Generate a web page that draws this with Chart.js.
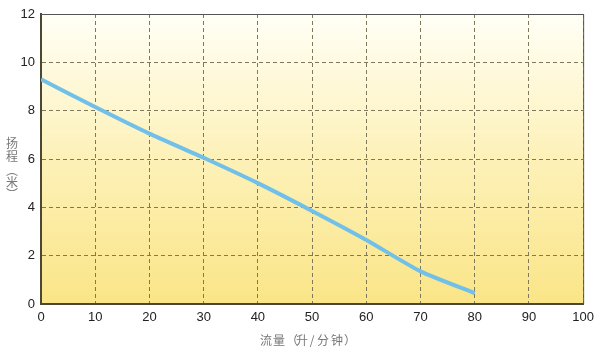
<!DOCTYPE html>
<html><head><meta charset="utf-8">
<script src="https://cdn.jsdelivr.net/npm/chart.js@4/dist/chart.umd.min.js"></script>
<style>html,body{margin:0;padding:0;background:#fff}#wrap{width:600px;height:353px;position:relative}</style>
</head><body><div id="wrap"><canvas id="c"></canvas></div>
<script>
const flow = [0, 10, 20, 30, 40, 50, 60, 70, 80];
const head = [9.3, 8.15, 7.05, 6.05, 5.0, 3.85, 2.65, 1.35, 0.45];
const xTitleChars = ['流', '量', '（', '升', '/', '分', '钟', '）'];
const yTitleChars = ['扬', '程', '︵', '米', '︶'];

const bgPlugin = {
  id: 'bg',
  beforeDraw(chart) {
    const {ctx, chartArea: a} = chart;
    const g = ctx.createLinearGradient(0, a.top, 0, a.bottom);
    g.addColorStop(0, '#fffff6');
    g.addColorStop(0.5, '#fdf1b8');
    g.addColorStop(1, '#fae587');
    ctx.save();
    ctx.fillStyle = g;
    ctx.fillRect(a.left, a.top, a.right - a.left, a.bottom - a.top);
    ctx.restore();
  },
  afterDraw(chart) {
    const {ctx, chartArea: a} = chart;
    ctx.save();
    ctx.strokeStyle = '#555';
    ctx.lineWidth = 1;
    ctx.beginPath();
    ctx.moveTo(a.left, a.top + 0.5);
    ctx.lineTo(a.right + 0.5, a.top + 0.5);
    ctx.lineTo(a.right + 0.5, a.bottom);
    ctx.stroke();
    ctx.fillStyle = '#777';
    ctx.font = '12px "Noto Sans CJK SC"';
    ctx.textAlign = 'center';
    ctx.textBaseline = 'middle';
    const yPos = [143, 156, 170, 182, 194];
    yTitleChars.forEach((ch, i) => ctx.fillText(ch, 12, yPos[i]));
    const cx = [266, 279, 292, 302, 312, 323, 337, 350];
    xTitleChars.forEach((ch, i) => ctx.fillText(ch, cx[i], 340));
    ctx.restore();
  }
};

new Chart(document.getElementById('c'), {
  type: 'line',
  data: {
    datasets: [{
      data: flow.map((x, i) => ({x, y: head[i]})),
      borderColor: '#70c0ea',
      borderWidth: 4,
      pointRadius: 0,
      tension: 0.2,
      fill: false
    }]
  },
  options: {
    responsive: true,
    maintainAspectRatio: false,
    animation: false,
    layout: {padding: {top: 14, right: 14, left: 0, bottom: 0}},
    plugins: {legend: {display: false}, tooltip: {enabled: false}},
    scales: {
      x: {
        type: 'linear', min: 0, max: 100,
        ticks: {stepSize: 10, color: '#222', font: {family: 'Liberation Sans', size: 13}, padding: 6, maxRotation: 0},
        grid: {color: '#7e785c', lineWidth: 1, drawTicks: false},
        border: {color: '#4b4733', width: 2, dash: [4, 3]},
        afterFit(s) { s.height = 49; }
      },
      y: {
        min: 0, max: 12,
        ticks: {stepSize: 2, color: '#222', font: {family: 'Liberation Sans', size: 13}, padding: 6},
        grid: {color: '#7e785c', lineWidth: 1, drawTicks: false},
        border: {color: '#4b4733', width: 2, dash: [4, 3]},
        afterFit(s) { s.width = 41; }
      }
    }
  },
  plugins: [bgPlugin]
});
</script></body></html>
